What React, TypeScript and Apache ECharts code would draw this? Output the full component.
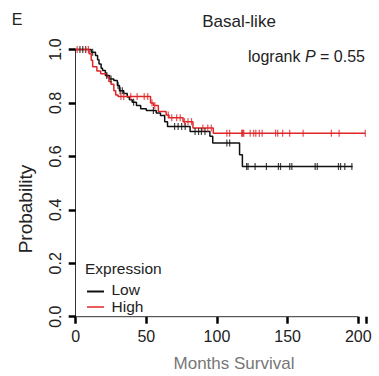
import React, { useEffect, useRef } from "react";
import * as echarts from "echarts";

// Kaplan–Meier step points [months, survival probability]
const lowCurve: [number, number][] = [
  [0, 1.0], [11, 0.99], [14, 0.978], [15.5, 0.962], [16.5, 0.946], [18, 0.93],
  [19, 0.921], [21, 0.903], [24, 0.89], [27, 0.884], [29.5, 0.865], [31, 0.846],
  [34, 0.835], [36.5, 0.822], [38, 0.812], [40, 0.803], [43, 0.79], [46, 0.778],
  [50, 0.772], [57, 0.762], [60, 0.753], [63, 0.73], [65, 0.712], [81, 0.693],
  [95, 0.675], [97, 0.65], [116, 0.606], [118, 0.562], [196, 0.562],
];
const highCurve: [number, number][] = [
  [0, 1.0], [9.5, 0.984], [11, 0.96], [12, 0.935], [15, 0.92], [17.7, 0.909],
  [22, 0.897], [23.5, 0.88], [25, 0.87], [27, 0.846], [28.3, 0.83], [30, 0.824],
  [53, 0.8], [55, 0.79], [58.5, 0.768], [64, 0.755], [66, 0.745], [76, 0.73],
  [83, 0.706], [97.4, 0.687], [205, 0.687],
];
// censoring times (months)
const lowCensor: number[] = [
  3, 5, 7, 12, 22, 25, 30, 31.5, 33, 41, 55, 70, 72.5, 75, 77.5, 84.5, 87, 89,
  91.5, 107, 109, 121, 122, 127, 135, 143.5, 145, 151.5, 153, 169.5, 171, 186,
  187.5, 190.5, 195.5,
];
const highCensor: number[] = [
  1, 7, 9, 32, 34, 39, 43.5, 48.5, 51, 54, 56, 65.5, 68, 71.5, 74, 77, 79.5, 82,
  90, 93.5, 96, 107, 109, 117.5, 118, 118.5, 119, 123.5, 126, 127.5, 130, 132,
  141.5, 143, 146.5, 151.5, 161, 181, 186.5, 205,
];
const xAxisLineRange: [number, number][] = [[0, 0], [200, 0]];
const legendLabels = ["Low", "High"];

const LOW_COLOR = "#111111";
const HIGH_COLOR = "#e02628";
const FONT = "Liberation Sans, Arial, sans-serif";

function survAt(curve: [number, number][], t: number): number {
  let v = curve[0][1];
  for (const [ct, cp] of curve) {
    if (ct <= t) v = cp;
    else break;
  }
  return v;
}

export default function App() {
  const ref = useRef<HTMLDivElement>(null);
  useEffect(() => {
    if (!ref.current) return;
    const chart = echarts.init(ref.current, undefined, { renderer: "svg" });
    const censorSeries = (name: string, curve: [number, number][], times: number[], color: string) => ({
      name: name + " censor",
      type: "scatter",
      data: times.map((t) => [t, survAt(curve, t)]),
      symbol: "rect",
      symbolSize: [1.2, 7],
      itemStyle: { color },
      silent: true,
      clip: false,
      z: 4,
    });
    chart.setOption({
      animation: false,
      backgroundColor: "#ffffff",
      grid: {
        left: 75.7, top: 49.5, width: 291, height: 267.2,
        containLabel: false, outerBoundsMode: "none",
      },
      xAxis: {
        type: "value", min: 0, max: 206, interval: 50,
        axisLine: { show: false },
        splitLine: { show: false },
        axisTick: { show: true, length: 7, lineStyle: { color: "#000", width: 2.5 } },
        axisLabel: {
          fontSize: 16, color: "#222", margin: 12, fontFamily: FONT,
          formatter: (v: number) => (v <= 200 ? String(v) : ""),
        },
      },
      yAxis: {
        type: "value", min: 0, max: 1, interval: 0.2,
        axisLine: { show: true, lineStyle: { color: "#333", width: 1 } },
        splitLine: { show: false },
        axisTick: { show: true, length: 7, lineStyle: { color: "#000", width: 2.5 } },
        axisLabel: {
          rotate: 90, fontSize: 16, color: "#222", margin: 12, fontFamily: FONT,
          formatter: (v: number) => v.toFixed(1),
        },
      },
      series: [
        {
          name: "axis", type: "line", data: xAxisLineRange, symbol: "none", silent: true,
          lineStyle: { color: "#333", width: 1 }, clip: false, z: 1,
        },
        {
          name: "Low", type: "line", step: "end", data: lowCurve, symbol: "none",
          lineStyle: { color: LOW_COLOR, width: 1.5 }, clip: false, z: 3,
        },
        {
          name: "High", type: "line", step: "end", data: highCurve, symbol: "none",
          lineStyle: { color: HIGH_COLOR, width: 1.5 }, clip: false, z: 3,
        },
        censorSeries("Low", lowCurve, lowCensor, LOW_COLOR),
        censorSeries("High", highCurve, highCensor, HIGH_COLOR),
      ],
      graphic: [
        { type: "text", x: 17, y: 19, style: { text: "E", fontSize: 16, fill: "#222", fontFamily: FONT, align: "center", verticalAlign: "middle" } },
        { type: "text", x: 239, y: 21, style: { text: "Basal-like", fontSize: 17, fill: "#222", fontFamily: FONT, align: "center", verticalAlign: "middle" } },
        {
          type: "text", x: 248, y: 56,
          style: {
            text: "{a|logrank }{b|P}{a| = 0.55}",
            verticalAlign: "middle",
            rich: {
              a: { fontSize: 16, fill: "#222", fontFamily: FONT },
              b: { fontSize: 16, fill: "#222", fontFamily: FONT, fontStyle: "italic" },
            },
          },
        },
        { type: "text", x: 25, y: 209, rotation: Math.PI / 2, style: { text: "Probability", fontSize: 19, fill: "#222", fontFamily: FONT, align: "center", verticalAlign: "middle" } },
        { type: "text", x: 234, y: 363, style: { text: "Months Survival", fontSize: 17, fill: "#777", fontFamily: FONT, align: "center", verticalAlign: "middle" } },
        { type: "text", x: 85, y: 268, style: { text: "Expression", fontSize: 15.5, fill: "#222", fontFamily: FONT, verticalAlign: "middle" } },
        { type: "line", shape: { x1: 87, y1: 291.5, x2: 104, y2: 291.5 }, style: { stroke: LOW_COLOR, lineWidth: 2 } },
        { type: "text", x: 111.5, y: 289, style: { text: legendLabels[0], fontSize: 15.5, fill: "#222", fontFamily: FONT, verticalAlign: "middle" } },
        { type: "line", shape: { x1: 87, y1: 307, x2: 104, y2: 307 }, style: { stroke: HIGH_COLOR, lineWidth: 1.5 } },
        { type: "text", x: 111.5, y: 306.5, style: { text: legendLabels[1], fontSize: 15.5, fill: "#222", fontFamily: FONT, verticalAlign: "middle" } },
      ],
    });
    return () => chart.dispose();
  }, []);
  return (
    <div
      ref={ref}
      style={{ position: "fixed", left: 0, top: 0, width: 379, height: 376, background: "#fff" }}
    />
  );
}
